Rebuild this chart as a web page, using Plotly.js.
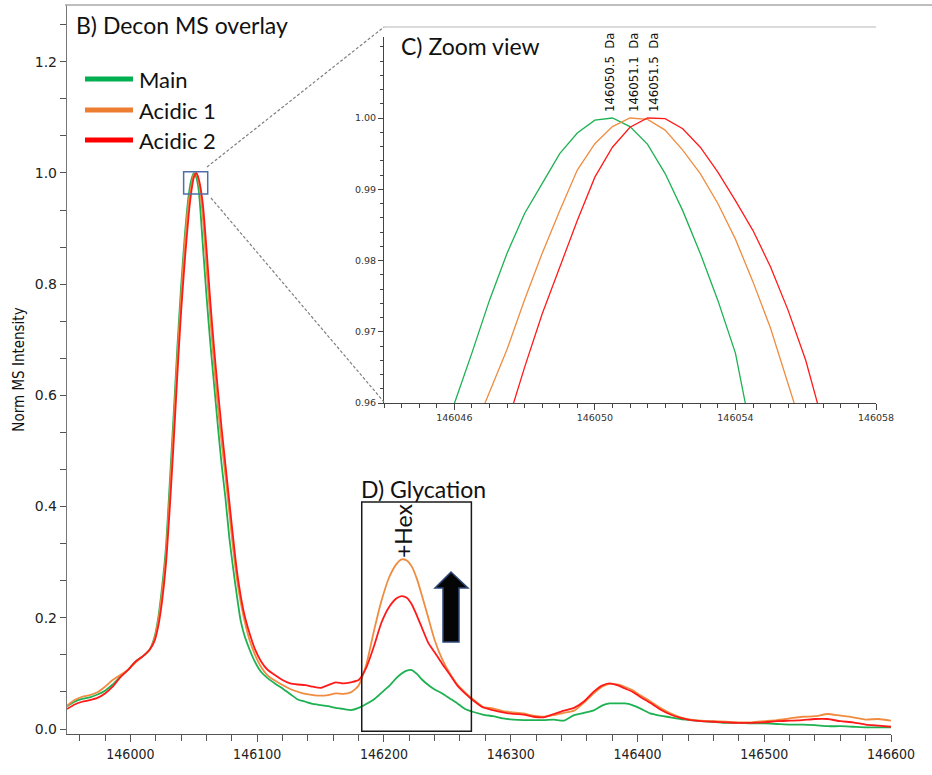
<!DOCTYPE html>
<html>
<head>
<meta charset="utf-8">
<script src="https://cdn.plot.ly/plotly-3.0.1.min.js"></script>
<style>
  html, body { margin: 0; padding: 0; background: #ffffff; }
  #chart { width: 932px; height: 775px; }
</style>
</head>
<body>
<div id="chart"></div>
<script>
// Deconvoluted mass axis (Da) shared by the three overlay spectra
const massDa = [
  145950, 145956, 145962, 145968, 145974, 145980, 145986, 145992, 145998, 146004,
  146010, 146015, 146019, 146022, 146025, 146028, 146031, 146034, 146037, 146040,
  146043, 146046, 146048, 146050, 146052, 146054, 146057, 146060, 146063, 146066,
  146069, 146072, 146075, 146078, 146081, 146084, 146087, 146090, 146094, 146098,
  146103, 146108, 146114, 146120, 146126, 146132, 146138, 146144, 146150, 146156,
  146162, 146168, 146174, 146180, 146186, 146192, 146198, 146204, 146210, 146214,
  146218, 146222, 146226, 146230, 146235, 146240, 146246, 146252, 146258, 146264,
  146270, 146278, 146286, 146294, 146302, 146310, 146318, 146326, 146334, 146342,
  146350, 146358, 146366, 146372, 146378, 146384, 146390, 146396, 146402, 146410,
  146418, 146426, 146434, 146442, 146450, 146460, 146470, 146480, 146490, 146500,
  146510, 146520, 146530, 146540, 146550, 146560, 146570, 146580, 146590, 146600
];

// Normalised intensities
const mainIntensity = [
  0.041, 0.049, 0.054, 0.057, 0.062, 0.069, 0.080, 0.094, 0.106, 0.121,
  0.131, 0.142, 0.165, 0.200, 0.255, 0.325, 0.440, 0.560, 0.684, 0.795,
  0.889, 0.960, 0.987, 0.9997, 0.992, 0.967, 0.875, 0.780, 0.695, 0.620,
  0.545, 0.475, 0.415, 0.345, 0.290, 0.240, 0.195, 0.168, 0.143, 0.122,
  0.103, 0.092, 0.082, 0.073, 0.063, 0.053, 0.049, 0.045, 0.043, 0.041,
  0.038, 0.036, 0.034, 0.038, 0.045, 0.053, 0.065, 0.077, 0.092, 0.100,
  0.105, 0.106, 0.099, 0.089, 0.079, 0.071, 0.064, 0.055, 0.046, 0.036,
  0.031, 0.026, 0.023, 0.019, 0.017, 0.016, 0.016, 0.016, 0.017, 0.015,
  0.025, 0.029, 0.034, 0.042, 0.046, 0.046, 0.046, 0.043, 0.037, 0.028,
  0.024, 0.021, 0.018, 0.016, 0.014, 0.013, 0.011, 0.011, 0.010, 0.010,
  0.009, 0.008, 0.008, 0.007, 0.005, 0.005, 0.004, 0.003, 0.003, 0.003
];
const acidic1Intensity = [
  0.042, 0.052, 0.058, 0.061, 0.066, 0.076, 0.088, 0.097, 0.106, 0.120,
  0.131, 0.142, 0.162, 0.195, 0.245, 0.310, 0.420, 0.540, 0.665, 0.775,
  0.875, 0.948, 0.9745, 0.9964, 0.9983, 0.983, 0.925, 0.830, 0.740, 0.655,
  0.580, 0.515, 0.455, 0.390, 0.325, 0.270, 0.228, 0.195, 0.160, 0.135,
  0.112, 0.097, 0.087, 0.079, 0.072, 0.067, 0.063, 0.061, 0.060, 0.061,
  0.064, 0.063, 0.066, 0.078, 0.115, 0.175, 0.230, 0.272, 0.297, 0.305,
  0.303, 0.292, 0.270, 0.240, 0.200, 0.160, 0.125, 0.100, 0.080, 0.066,
  0.054, 0.040, 0.037, 0.032, 0.030, 0.028, 0.024, 0.022, 0.025, 0.029,
  0.033, 0.048, 0.065, 0.076, 0.081, 0.080, 0.076, 0.070, 0.061, 0.050,
  0.038, 0.028, 0.021, 0.017, 0.015, 0.014, 0.013, 0.012, 0.012, 0.014,
  0.016, 0.019, 0.022, 0.023, 0.027, 0.024, 0.021, 0.017, 0.018, 0.015
];
const acidic2Intensity = [
  0.036, 0.044, 0.049, 0.052, 0.056, 0.064, 0.076, 0.093, 0.106, 0.121,
  0.131, 0.142, 0.158, 0.185, 0.230, 0.295, 0.395, 0.510, 0.635, 0.750,
  0.845, 0.925, 0.965, 0.9917, 0.9999, 0.9884, 0.947, 0.865, 0.770, 0.685,
  0.610, 0.540, 0.475, 0.410, 0.345, 0.285, 0.240, 0.205, 0.172, 0.145,
  0.122, 0.107, 0.097, 0.088, 0.082, 0.080, 0.079, 0.076, 0.074, 0.079,
  0.084, 0.082, 0.084, 0.088, 0.110, 0.148, 0.191, 0.219, 0.235, 0.239,
  0.236, 0.224, 0.204, 0.182, 0.155, 0.138, 0.117, 0.098, 0.078, 0.064,
  0.052, 0.039, 0.034, 0.030, 0.027, 0.026, 0.022, 0.021, 0.027, 0.033,
  0.038, 0.050, 0.068, 0.078, 0.082, 0.079, 0.073, 0.067, 0.058, 0.047,
  0.035, 0.026, 0.020, 0.016, 0.014, 0.013, 0.012, 0.011, 0.011, 0.012,
  0.014, 0.015, 0.016, 0.018, 0.018, 0.014, 0.012, 0.008, 0.006, 0.004
];

// Apex region sampled every 0.5 Da
const zoomDa = [
  146045.5, 146046.0, 146046.5, 146047.0, 146047.5, 146048.0, 146048.5, 146049.0,
  146049.5, 146050.0, 146050.5, 146051.0, 146051.5, 146052.0, 146052.5, 146053.0,
  146053.5, 146054.0, 146054.5, 146055.0, 146055.5, 146056.0, 146056.5
];
const zoomMain = [
  0.952, 0.9599, 0.967, 0.9744, 0.981, 0.9866, 0.9908, 0.9950,
  0.9979, 0.9997, 1.0000, 0.9988, 0.9963, 0.9922, 0.9870, 0.9810,
  0.9744, 0.9670, 0.9545, 0.940, 0.925, 0.910, 0.890
];
const zoomAcidic1 = [
  0.940, 0.948, 0.9555, 0.9615, 0.9675, 0.9745, 0.9810, 0.9870,
  0.9927, 0.9964, 0.9988, 1.0000, 0.9998, 0.9983, 0.9955, 0.9922,
  0.9880, 0.9830, 0.9770, 0.9705, 0.9630, 0.9555, 0.947
];
const zoomAcidic2 = [
  0.930, 0.937, 0.944, 0.951, 0.957, 0.9650, 0.9725, 0.9790,
  0.9856, 0.9917, 0.9959, 0.9987, 1.0000, 0.9999, 0.9985, 0.9959,
  0.9924, 0.9884, 0.9842, 0.9791, 0.9730, 0.9660, 0.9570
];

// Apex masses reported for each sample
const seriesNames = ['Main', 'Acidic 1', 'Acidic 2'];
const apexMass = [146050.5, 146051.1, 146051.5];
const apexLabels = ['146050.5\u00a0\u00a0Da', '146051.1\u00a0\u00a0Da', '146051.5\u00a0\u00a0Da'];

// Axis tick values
const massTicks = [146000, 146100, 146200, 146300, 146400, 146500, 146600];
const zoomTicks = [146046, 146050, 146054, 146058];
const zoomIntensityTicks = [0.96, 0.97, 0.98, 0.99, 1.00];

const colors = ['#1db152', '#f08c40', '#ff1a1a'];
const legendColors = ['#00b050', '#ed7d31', '#ff0000'];

// pixel -> paper helpers for the overlay decorations
const PL = 67, PR = 891, PT = 5, PB = 734;
const px = v => (v - PL) / (PR - PL);
const py = v => (PB - v) / (PB - PT);

const narrow = 'Liberation Sans Narrow, DejaVu Sans Condensed, Arial Narrow, sans-serif';
const caption = 'Lato, Open Sans, sans-serif';

const fullSeries = [mainIntensity, acidic1Intensity, acidic2Intensity];
const zoomSeries = [zoomMain, zoomAcidic1, zoomAcidic2];

const traces = [];
fullSeries.forEach((vals, i) => {
  traces.push({
    x: massDa, y: vals, type: 'scatter', mode: 'lines', name: seriesNames[i],
    line: { color: colors[i], width: 1.8, shape: 'spline', smoothing: 0.6 },
    xaxis: 'x', yaxis: 'y', showlegend: false, hoverinfo: 'skip'
  });
});
zoomSeries.forEach((vals, i) => {
  traces.push({
    x: zoomDa, y: vals, type: 'scatter', mode: 'lines', name: seriesNames[i],
    line: { color: colors[i], width: 1.3 },
    xaxis: 'x2', yaxis: 'y2', showlegend: false, hoverinfo: 'skip'
  });
});

const shapes = [
  // frame top edges
  { type: 'line', xref: 'paper', yref: 'paper', x0: px(65), x1: px(932), y0: py(5), y1: py(5),
    line: { color: '#a8a8a8', width: 1.5 } },
  { type: 'line', xref: 'paper', yref: 'paper', x0: px(384), x1: px(876), y0: py(27), y1: py(27),
    line: { color: '#b8b8b8', width: 1.2 } },
  // apex marker box
  { type: 'rect', xref: 'x', yref: 'y', x0: 146042, x1: 146061, y0: 0.962, y1: 1.002,
    line: { color: '#4f6fa8', width: 1.5 } },
  // connectors to the zoom panel
  { type: 'line', xref: 'paper', yref: 'paper', x0: px(207), y0: py(167), x1: px(384), y1: py(27),
    line: { color: '#7f7f7f', width: 1.2, dash: '3px,2px' } },
  { type: 'line', xref: 'paper', yref: 'paper', x0: px(211), y0: py(198), x1: px(384), y1: py(402),
    line: { color: '#7f7f7f', width: 1.2, dash: '3px,2px' } },
  // glycation window
  { type: 'rect', xref: 'x', yref: 'y', x0: 146182.5, x1: 146269, y0: -0.004, y1: 0.408,
    line: { color: '#1a1a1a', width: 1.5 } },
  // upward arrow
  { type: 'path', xref: 'paper', yref: 'paper',
    path: 'M ' + px(451) + ',' + py(572) + ' L ' + px(468) + ',' + py(588) + ' L ' + px(459) + ',' + py(588) +
          ' L ' + px(459) + ',' + py(642) + ' L ' + px(443) + ',' + py(642) + ' L ' + px(443) + ',' + py(588) +
          ' L ' + px(435) + ',' + py(588) + ' Z',
    fillcolor: '#050505', line: { color: '#2f4a7a', width: 1.5 } }
];

// legend swatches
const legendRows = [79, 110, 140];
legendRows.forEach((row, i) => {
  shapes.push({ type: 'line', xref: 'paper', yref: 'paper', x0: px(85), x1: px(133), y0: py(row), y1: py(row),
    line: { color: legendColors[i], width: 5 } });
});

const annotations = [
  { text: 'B) Decon MS overlay', xref: 'paper', yref: 'paper', x: px(74), y: py(25),
    xanchor: 'left', yanchor: 'middle', showarrow: false, font: { family: caption, size: 23, color: '#111' } },
  { text: 'C) Zoom view', xref: 'paper', yref: 'paper', x: px(399), y: py(46),
    xanchor: 'left', yanchor: 'middle', showarrow: false, font: { family: caption, size: 23, color: '#111' } },
  { text: 'D) Glycation', xref: 'paper', yref: 'paper', x: px(359), y: py(489),
    xanchor: 'left', yanchor: 'middle', showarrow: false, font: { family: caption, size: 23, color: '#111' } },
  { text: '+Hex', xref: 'paper', yref: 'paper', x: px(403), y: py(531), textangle: -90,
    xanchor: 'center', yanchor: 'middle', showarrow: false, font: { family: caption, size: 23, color: '#111' } }
];
legendRows.forEach((row, i) => {
  annotations.push({ text: seriesNames[i], xref: 'paper', yref: 'paper', x: px(137), y: py(row),
    xanchor: 'left', yanchor: 'middle', showarrow: false, font: { family: caption, size: 22, color: '#111' } });
});
const labelShift = [-3, 0, 6];
apexMass.forEach((m, i) => {
  annotations.push({ text: apexLabels[i], xref: 'x2', yref: 'y2', x: m, y: 1.0, textangle: -90,
    xanchor: 'center', yanchor: 'bottom', xshift: labelShift[i], yshift: 4, showarrow: false,
    font: { family: narrow, size: 13, color: '#111' } });
});

const layout = {
  width: 932, height: 775,
  margin: { l: PL, r: 932 - PR, t: PT, b: 775 - PB },
  paper_bgcolor: '#ffffff', plot_bgcolor: '#ffffff',
  showlegend: false,
  xaxis: {
    domain: [0, 1], range: [145950, 146600],
    tickvals: massTicks, tickformat: 'd',
    ticks: 'outside', ticklen: 7, tickwidth: 1, tickcolor: '#555',
    minor: { dtick: 20, tick0: 146000, ticks: 'outside', ticklen: 6, tickcolor: '#555', showgrid: false },
    showline: true, linecolor: '#555', linewidth: 1.2,
    showgrid: false, zeroline: false,
    tickfont: { family: 'DejaVu Sans Condensed, DejaVu Sans, sans-serif', size: 14, color: '#222' }
  },
  yaxis: {
    domain: [0, 1], range: [-0.009, 1.302],
    dtick: 0.2, tick0: 0, tickformat: '.1f',
    ticks: 'outside', ticklen: 6, tickwidth: 1, tickcolor: '#555',
    minor: { dtick: 0.2 / 3, tick0: 0, ticks: 'outside', ticklen: 6, tickcolor: '#555', showgrid: false },
    showline: true, linecolor: '#777', linewidth: 1.2,
    showgrid: false, zeroline: false,
    tickfont: { family: 'DejaVu Sans, sans-serif', size: 14, color: '#222' },
    title: { text: 'Norm MS Intensity', standoff: 6, font: { family: narrow, size: 15, color: '#111' } }
  },
  xaxis2: {
    domain: [px(384), px(876)], anchor: 'y2', range: [146044, 146058],
    tickvals: zoomTicks, tickformat: 'd',
    ticks: 'outside', ticklen: 6, tickwidth: 1, tickcolor: '#444',
    minor: { dtick: 0.5, tick0: 146044, ticks: 'outside', ticklen: 4, tickcolor: '#444', showgrid: false },
    showline: true, linecolor: '#444', linewidth: 1,
    showgrid: false, zeroline: false,
    tickfont: { family: 'DejaVu Sans, sans-serif', size: 9.5, color: '#333' }
  },
  yaxis2: {
    domain: [py(403), py(37)], anchor: 'x2', range: [0.96, 1.01137],
    tickvals: zoomIntensityTicks, tickformat: '.2f',
    ticks: 'outside', ticklen: 5, tickwidth: 1, tickcolor: '#444',
    minor: { dtick: 0.002, tick0: 0.96, ticks: 'outside', ticklen: 3, tickcolor: '#444', showgrid: false },
    showline: true, linecolor: '#444', linewidth: 1,
    showgrid: false, zeroline: false,
    tickfont: { family: 'DejaVu Sans, sans-serif', size: 9.5, color: '#333' }
  },
  shapes: shapes,
  annotations: annotations
};

Plotly.newPlot('chart', traces, layout, { displayModeBar: false, staticPlot: true });
</script>
</body>
</html>
